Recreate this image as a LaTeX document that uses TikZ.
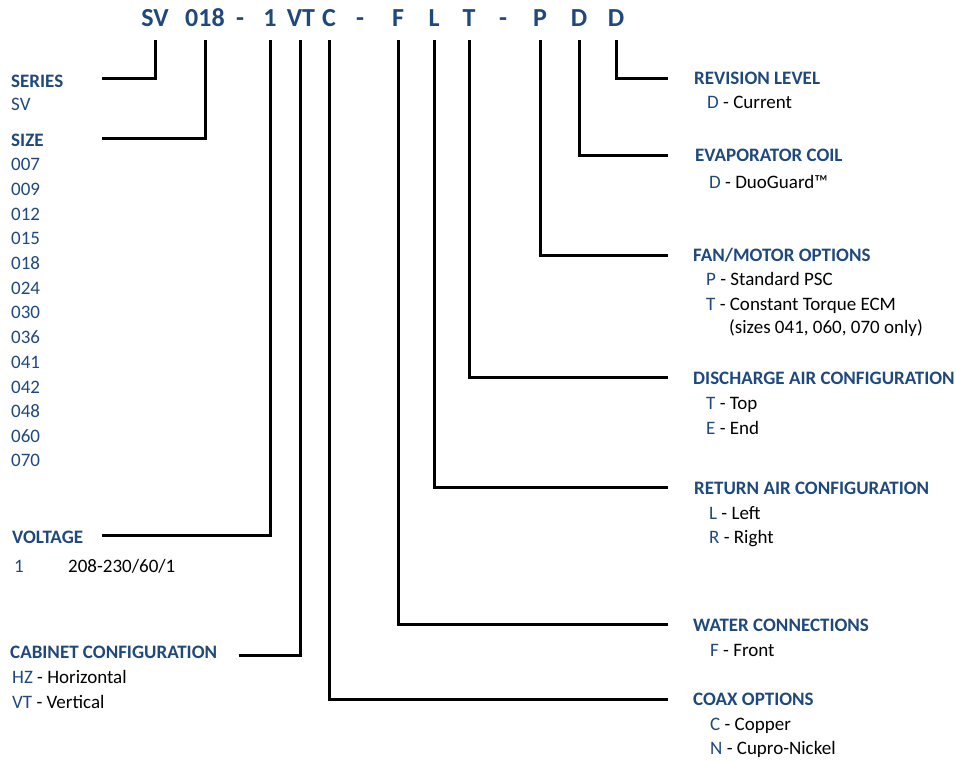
\documentclass[tikz,border=0pt]{standalone}
\usepackage{fontspec}
\setmainfont{Carlito}
\usepackage{tikz}
\usetikzlibrary{positioning}
\definecolor{navy}{HTML}{1F497D}

\begin{document}
\begin{tikzpicture}[x=1pt,y=-1pt,
    code/.style={anchor=base,inner sep=0pt,text=navy,font=\fontsize{26}{30}\selectfont\bfseries},
    head/.style={anchor=base west,inner sep=0pt,text=navy,font=\fontsize{19}{22}\selectfont\bfseries},
    item/.style={anchor=base west,inner sep=0pt,font=\fontsize{19}{22}\selectfont},
    lead/.style={line width=3pt}]
                      \useasboundingbox (0,0) rectangle (956,761);
                      % model number
                      \node[code](sv)at(155,26){SV};
                      \node[code](size)at(205,26){018};
                      \node[code](d1)at(240,26){-};
                      \node[code](volt)at(270,26){1};
                      \node[code](cab)at(301,26){VT};
                      \node[code](coax)at(329,26){C};
                      \node[code](d2)at(360,26){-};
                      \node[code](water)at(398,26){F};
                      \node[code](ret)at(434,26){L};
                      \node[code](dis)at(469,26){T};
                      \node[code](d3)at(503,26){-};
                      \node[code](fan)at(540,26){P};
                      \node[code](evap)at(579,26){D};
                      \node[code](rev)at(616,26){D};
                      % left side
                      \node[head](series-h)at(11,87){SERIES};
                      \node[item,text=navy](series-v)at(11,110){SV};
                      \node[head](size-h)at(11,146){SIZE};
                      \node[item,text=navy](s1)at(11,170){007};
                      \node[item,text=navy](s2)at(11,195){009};
                      \node[item,text=navy](s3)at(11,220){012};
                      \node[item,text=navy](s4)at(11,244){015};
                      \node[item,text=navy](s5)at(11,269){018};
                      \node[item,text=navy](s6)at(11,294){024};
                      \node[item,text=navy](s7)at(11,318){030};
                      \node[item,text=navy](s8)at(11,343){036};
                      \node[item,text=navy](s9)at(11,368){041};
                      \node[item,text=navy](s10)at(11,393){042};
                      \node[item,text=navy](s11)at(11,417){048};
                      \node[item,text=navy](s12)at(11,442){060};
                      \node[item,text=navy](s13)at(11,466){070};
                      \node[head](volt-h)at(12,543){VOLTAGE};
                      \node[item,text=navy](volt-v)at(14,572){1};
                      \node[item](volt-t)at(68,572){208-230/60/1};
                      \node[head](cab-h)at(10,658){CABINET CONFIGURATION};
                      \node[item](cab-v1)at(12,683){\textcolor{navy}{HZ} - Horizontal};
                      \node[item](cab-v2)at(12,708){\textcolor{navy}{VT} - Vertical};
                      % right side
                      \node[head](rev-h)at(694,84){REVISION LEVEL};
                      \node[item](rev-v)at(707,108){\textcolor{navy}{D} - Current};
                      \node[head](evap-h)at(695,161){EVAPORATOR COIL};
                      \node[item](evap-v)at(709,188){\textcolor{navy}{D} - DuoGuard™};
                      \node[head](fan-h)at(693,261){FAN/MOTOR OPTIONS};
                      \node[item](fan-v1)at(706,285){\textcolor{navy}{P} - Standard PSC};
                      \node[item](fan-v2)at(706,310){\textcolor{navy}{T} - Constant Torque ECM};
                      \node[item](fan-v3)at(729,333){(sizes 041, 060, 070 only)};
                      \node[head](dis-h)at(693,384){DISCHARGE AIR CONFIGURATION};
                      \node[item](dis-v1)at(706,409){\textcolor{navy}{T} - Top};
                      \node[item](dis-v2)at(706,434){\textcolor{navy}{E} - End};
                      \node[head](ret-h)at(694,494){RETURN AIR CONFIGURATION};
                      \node[item](ret-v1)at(709,519){\textcolor{navy}{L} - Left};
                      \node[item](ret-v2)at(709,543){\textcolor{navy}{R} - Right};
                      \node[head](water-h)at(693,631){WATER CONNECTIONS};
                      \node[item](water-v)at(710,656){\textcolor{navy}{F} - Front};
                      \node[head](coax-h)at(693,705){COAX OPTIONS};
                      \node[item](coax-v1)at(710,730){\textcolor{navy}{C} - Copper};
                      \node[item](coax-v2)at(710,754){\textcolor{navy}{N} - Cupro-Nickel};
                      % leader ends
                      \coordinate(sv-e)at(102,78);
                      \coordinate(size-e)at(102,138);
                      \coordinate(volt-e)at(102,535);
                      \coordinate(cab-e)at(239,655);
                      \coordinate(coax-e)at(668,699);
                      \coordinate(water-e)at(668,624);
                      \coordinate(ret-e)at(668,487);
                      \coordinate(dis-e)at(668,377);
                      \coordinate(fan-e)at(668,255);
                      \coordinate(evap-e)at(668,155);
                      \coordinate(rev-e)at(668,78);
                      \draw[lead]([yshift=-14pt]sv.base)|-(sv-e);
                      \draw[lead]([yshift=-14pt]size.base)|-(size-e);
                      \draw[lead]([yshift=-14pt]volt.base)|-(volt-e);
                      \draw[lead]([yshift=-14pt,xshift=-1pt]cab.base)|-(cab-e);
                      \draw[lead]([yshift=-14pt]coax.base)|-(coax-e);
                      \draw[lead]([yshift=-14pt]water.base)|-(water-e);
                      \draw[lead]([yshift=-14pt]ret.base)|-(ret-e);
                      \draw[lead]([yshift=-14pt]dis.base)|-(dis-e);
                      \draw[lead]([yshift=-14pt]fan.base)|-(fan-e);
                      \draw[lead]([yshift=-14pt]evap.base)|-(evap-e);
                      \draw[lead]([yshift=-14pt]rev.base)|-(rev-e);
                  \end{tikzpicture}
\end{document}
